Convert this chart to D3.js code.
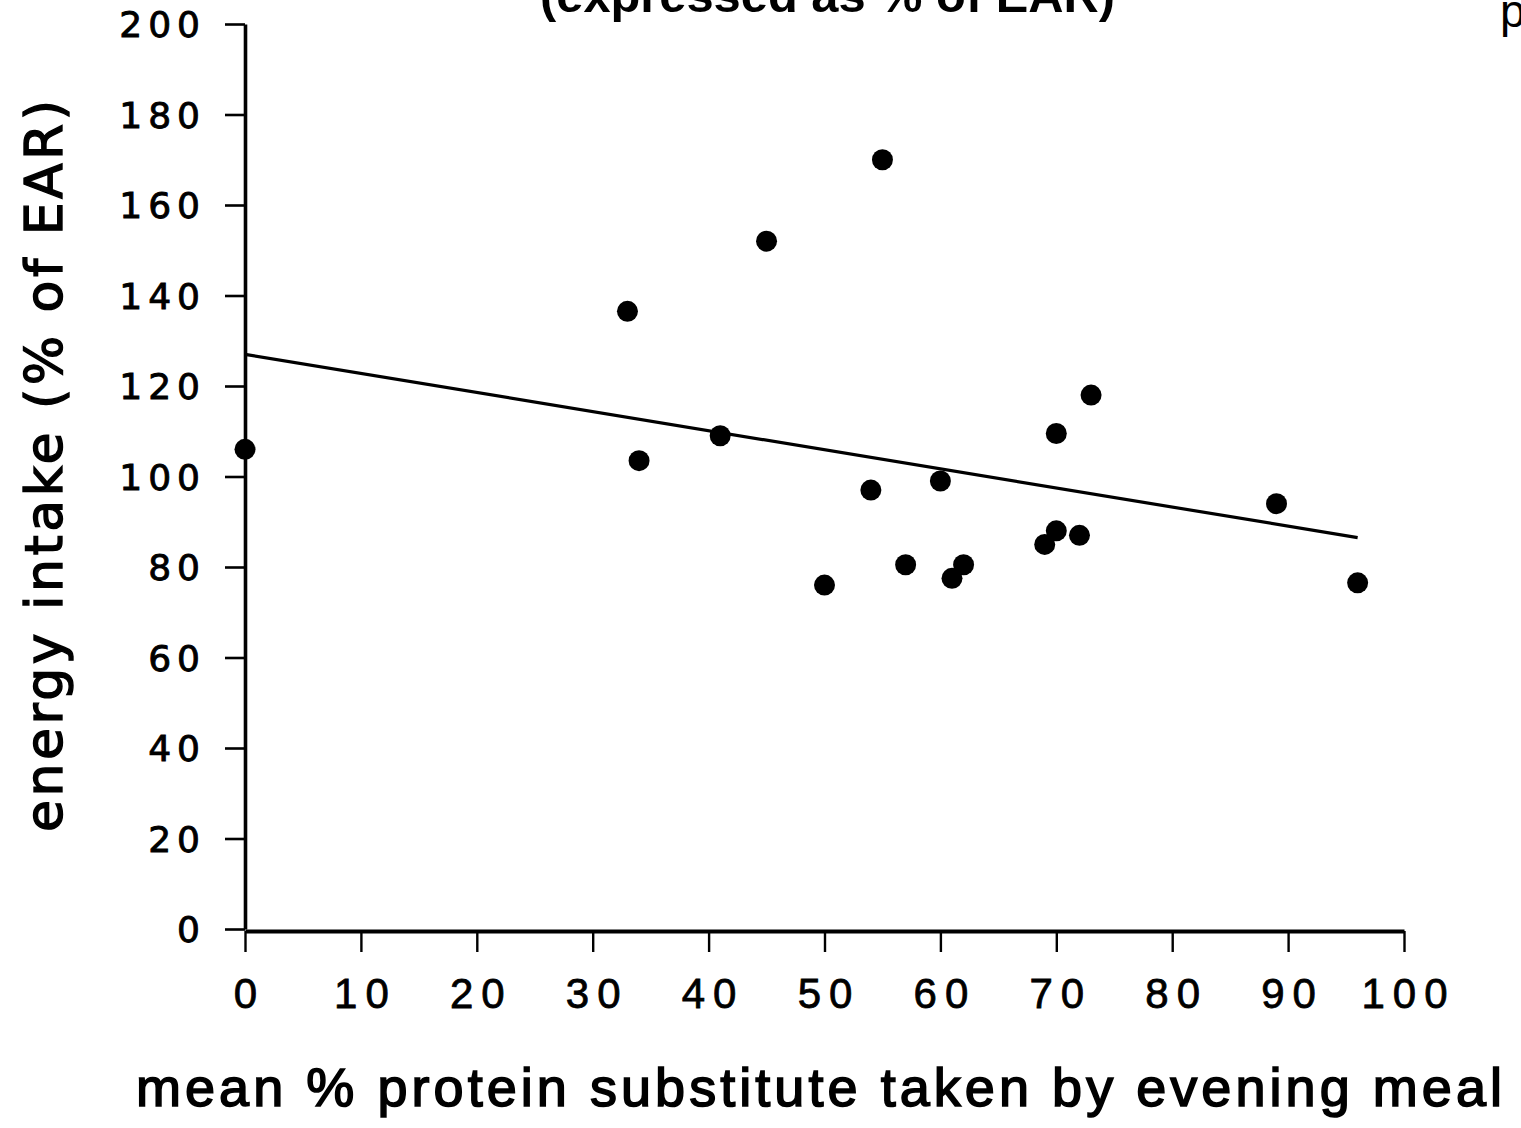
<!DOCTYPE html>
<html>
<head>
<meta charset="utf-8">
<script src="https://cdn.jsdelivr.net/npm/d3@7"></script>
<style>
  html, body { margin: 0; padding: 0; background: #fff; }
  svg { display: block; }
</style>
</head>
<body>
<div id="chart"></div>
<script>
// data
const pctSubstitute = [0, 33, 34, 41, 45, 55, 50, 54, 57, 60, 61, 62, 69, 70, 70, 72, 73, 89, 96];
const energyIntake = [106, 136.5, 103.5, 109, 152, 170, 76, 97, 80.5, 99, 77.5, 80.5, 85, 88, 109.5, 87, 118, 94, 76.5];
const fitX = [0, 96];
const fitY = [127, 86.5];
const xTicks = [0, 10, 20, 30, 40, 50, 60, 70, 80, 90, 100];
const yTicks = [0, 20, 40, 60, 80, 100, 120, 140, 160, 180, 200];

const W = 1521, H = 1128;
const svg = d3.select("#chart").append("svg")
  .attr("width", W)
  .attr("height", H);

const x = d3.scaleLinear().domain([0, 100]).range([245, 1404]);
const y = d3.scaleLinear().domain([0, 200]).range([929, 24]);

// y axis
const yAxis = svg.append("g")
  .attr("transform", `translate(${x(0)},0)`)
  .call(d3.axisLeft(y).tickValues(yTicks).tickSize(20).tickSizeOuter(0).tickPadding(19));
yAxis.select(".domain").attr("stroke", "#000").attr("stroke-width", 3.6);
yAxis.selectAll(".tick line").attr("stroke", "#000").attr("stroke-width", 2.6);
yAxis.selectAll(".tick text")
  .attr("fill", "#000")
  .attr("stroke", "#000")
  .attr("stroke-width", 0.9)
  .style("font-family", "'DejaVu Sans', sans-serif")
  .style("font-size", "36px")
  .style("letter-spacing", "6px")
  .attr("dy", "0.36em");

// x axis
const xAxis = svg.append("g")
  .attr("transform", `translate(0,${y(0) + 2})`)
  .call(d3.axisBottom(x).tickValues(xTicks).tickSize(21).tickSizeOuter(0).tickPadding(26));
xAxis.select(".domain").attr("stroke", "#000").attr("stroke-width", 4);
xAxis.selectAll(".tick line").attr("stroke", "#000").attr("stroke-width", 2.4);
xAxis.selectAll(".tick text")
  .attr("fill", "#000")
  .attr("stroke", "#000")
  .attr("stroke-width", 0.8)
  .attr("dx", 4)
  .style("font-family", "'Liberation Sans', sans-serif")
  .style("font-size", "42px")
  .style("letter-spacing", "8px");

// regression line
const line = d3.line().x(d => x(d[0])).y(d => y(d[1]));
svg.append("path")
  .datum(d3.zip(fitX, fitY))
  .attr("d", line)
  .attr("fill", "none")
  .attr("stroke", "#000")
  .attr("stroke-width", 3.2);

// points
svg.append("g").selectAll("circle")
  .data(d3.zip(pctSubstitute, energyIntake))
  .enter()
  .append("circle")
  .attr("cx", d => x(d[0]))
  .attr("cy", d => y(d[1]))
  .attr("r", 10.5)
  .attr("fill", "#000");

// titles (top ones are cut by the page edge in the scan too)
svg.append("text")
  .attr("x", 540)
  .attr("y", 12)
  .attr("textLength", 575)
  .attr("lengthAdjust", "spacingAndGlyphs")
  .style("font-family", "'Liberation Sans', sans-serif")
  .style("font-weight", "bold")
  .style("font-size", "48px")
  .text("(expressed as % of EAR)");

svg.append("text")
  .attr("x", 1500)
  .attr("y", 27)
  .style("font-family", "'Liberation Sans', sans-serif")
  .style("font-size", "46px")
  .text("p");

svg.append("text")
  .attr("x", 136)
  .attr("y", 1106)
  .attr("textLength", 1366)
  .attr("lengthAdjust", "spacing")
  .attr("stroke", "#000")
  .attr("stroke-width", 1.6)
  .style("font-family", "'Liberation Sans', sans-serif")
  .style("font-size", "54px")
  .text("mean % protein substitute taken by evening meal");

svg.append("text")
  .attr("transform", "translate(62,832) rotate(-90)")
  .attr("textLength", 732)
  .attr("lengthAdjust", "spacing")
  .attr("stroke", "#000")
  .attr("stroke-width", 1.4)
  .style("font-family", "'DejaVu Sans', sans-serif")
  .style("font-size", "52px")
  .text("energy intake (% of EAR)");
</script>
</body>
</html>
